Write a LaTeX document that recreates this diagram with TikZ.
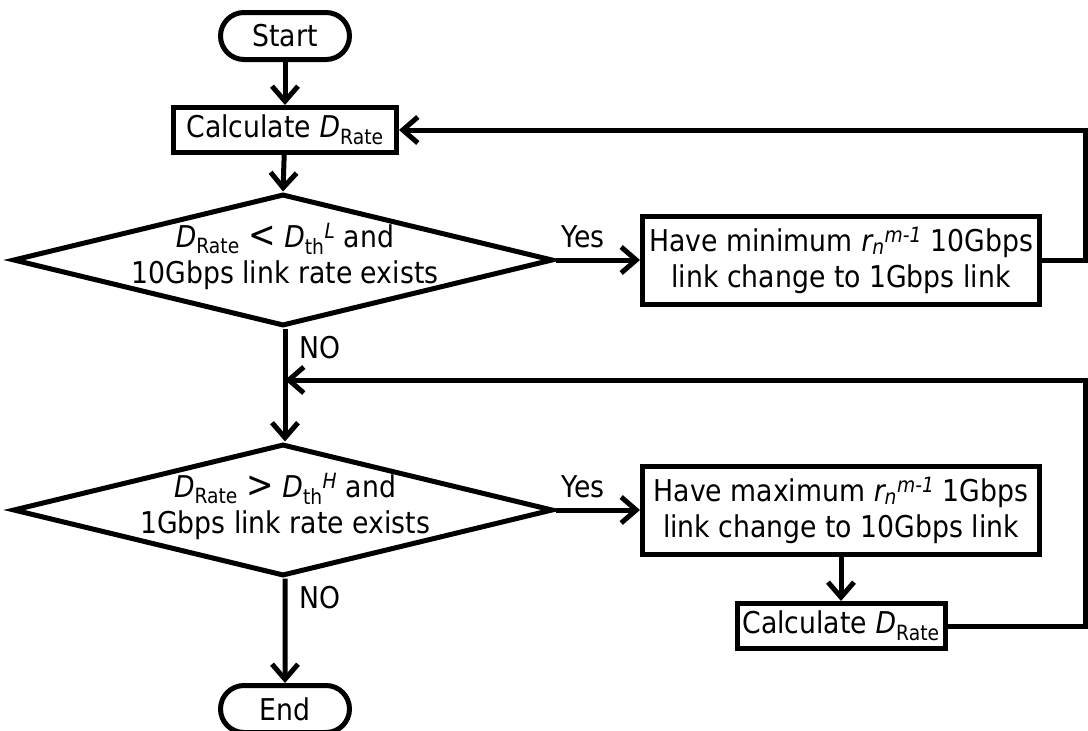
\documentclass[tikz,border=0pt]{standalone}
\usepackage{fontspec}
\usepackage{amsmath}
\setmainfont{DejaVu Sans}[FakeStretch=0.89]
\usetikzlibrary{arrows.meta,shapes.geometric,shapes.misc}

% symbols used in the labels
\newcommand{\Drate}{$\text{\itshape D}_{\text{Rate}}$}
\newcommand{\Dth}[1]{$\text{\itshape D}_{\text{th}}{}^{\text{\itshape #1}}$}
\newcommand{\rnm}{$\text{\itshape r}_{\text{\itshape n}}{}^{\text{\itshape m-1}}$}
\newcommand{\rel}[1]{{\fontsize{37}{36}\selectfont #1}}

\begin{document}
\begin{tikzpicture}[x=1pt,y=-1pt,line width=5pt,
  every node/.style={font=\fontsize{30}{36}\selectfont},
  term/.style={draw,rounded rectangle,minimum width=129pt,minimum height=47pt,inner sep=0pt},
  proc/.style={draw,rectangle,inner sep=0pt,align=center},
  decide/.style={draw,diamond,minimum width=540pt,minimum height=132pt,inner sep=0pt},
  flow/.style={-{Straight Barb[length=15pt,width=26pt]}},
  lbl/.style={inner sep=0pt,align=center}]
\useasboundingbox (0,0) rectangle (1088,731);

% main column
\node[term] (start) at (285,36) {Start};
\node[proc,minimum width=223pt,minimum height=45pt] (calcA) at (285,130) {Calculate \Drate};
\node[decide] (d1) at (283,260) {};
\node[lbl] (t1) at (285,256) {\Drate{} \rel{<} \Dth{L} and\\10Gbps link rate exists};
\node[decide] (d2) at (283,510) {};
\node[lbl] (t2) at (285,506) {\Drate{} \rel{>} \Dth{H} and\\1Gbps link rate exists};
\node[term] (end) at (285,709) {End};

% right column
\node[proc,minimum width=397pt,minimum height=88pt] (boxA) at (841,260)
  {Have minimum \rnm{} 10Gbps\\link change to 1Gbps link};
\node[proc,minimum width=397pt,minimum height=88pt] (boxB) at (841,510)
  {Have maximum \rnm{} 1Gbps\\link change to 10Gbps link};
\node[proc,minimum width=208pt,minimum height=45pt] (calcB) at (841,626) {Calculate \Drate};

% branch labels
\node[lbl,anchor=west] (y1) at (559,237) {Yes};
\node[lbl,anchor=west] (y2) at (559,487) {Yes};
\node[lbl,anchor=west] (n1) at (297,348) {NO};
\node[lbl,anchor=west] (n2) at (297,598) {NO};

% loop-back corners
\coordinate (rA) at (1085,130);
\coordinate (rB) at (1085,380);
\coordinate (merge) at (285,380);

% connectors
\draw[flow] (start) -- (calcA);
\draw[flow] (calcA) -- (d1.north);
\draw[flow] (d1.east) -- (boxA.west);
\draw[flow] (boxA.east) -| (rA) -- (calcA.east);
\draw[flow] (d1.south -| merge) -- (d2.north -| merge);
\draw[flow] (d2.east) -- (boxB.west);
\draw[flow] (boxB) -- (calcB);
\draw[flow] (calcB.east) -| (rB) -- (merge);
\draw[flow] (d2.south -| end) -- (end);
\end{tikzpicture}
\end{document}
